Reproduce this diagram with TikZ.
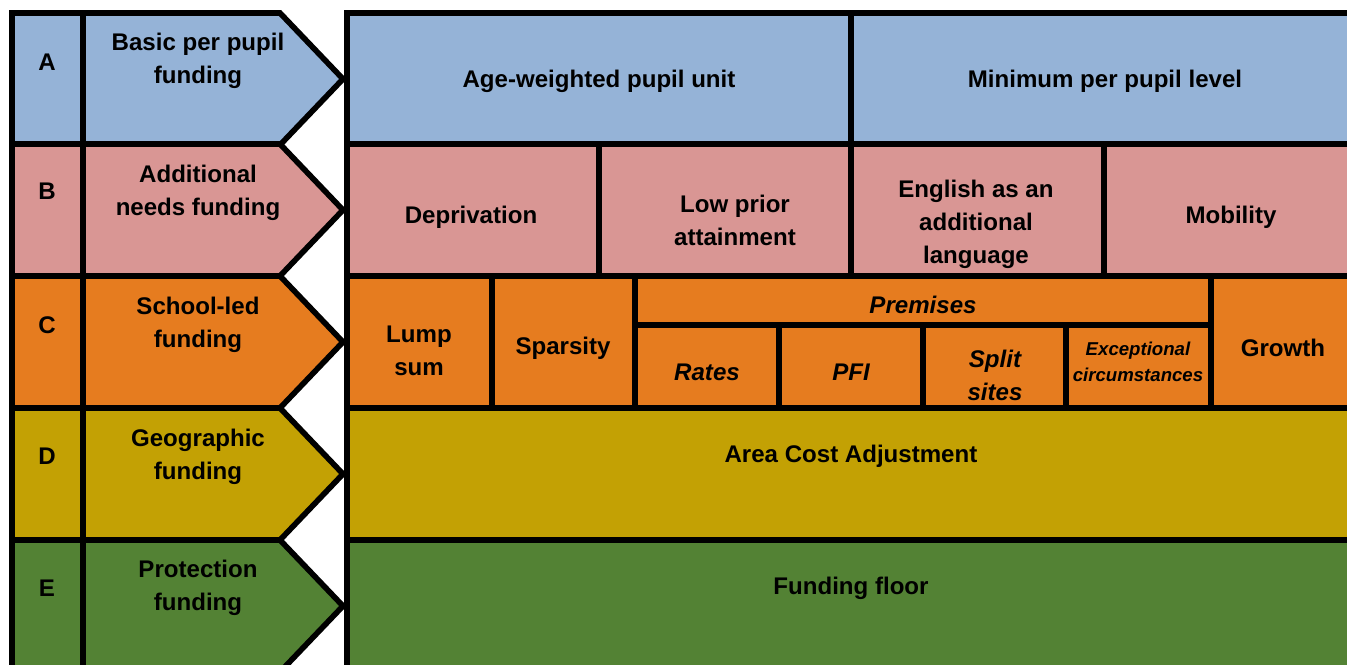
\documentclass[tikz,border=0pt]{standalone}
\usepackage{fontspec}
\setmainfont{Liberation Sans}
\usepackage{tikz}
\definecolor{blueA}{HTML}{95B3D7}
\definecolor{pinkB}{HTML}{D99694}
\definecolor{orangeC}{HTML}{E67C1F}
\definecolor{goldD}{HTML}{C3A104}
\definecolor{greenE}{HTML}{538234}

\begin{document}
\begin{tikzpicture}[x=0.02cm,y=-0.02cm,
    box/.style={draw=black,line width=3.2pt},
    lbl/.style={font=\bfseries\fontsize{13.7}{18.7}\selectfont,align=center,inner sep=0pt},
    ilbl/.style={lbl,font=\bfseries\itshape\fontsize{13.7}{18.7}\selectfont},
    slbl/.style={lbl,font=\bfseries\itshape\fontsize{10.6}{14.7}\selectfont}]
    \useasboundingbox (0,0) rectangle (1347,665);
    \clip (0,0) rectangle (1347,665);
    % Left column (letters and arrows)
    \foreach \y/\col in {13/blueA,144/pinkB,276/orangeC,408/goldD,540/greenE} {
        \draw[box,fill=\col] (12,\y) rectangle (83,\y+132);
        \draw[box,fill=\col] (83,\y) -- (280,\y) -- (343,\y+66) -- (280,\y+132) -- (83,\y+132) -- cycle;
    }
    \node[lbl] (letA) at (47,62) {A};
    \node[lbl] (letB) at (47,191) {B};
    \node[lbl] (letC) at (47,325) {C};
    \node[lbl] (letD) at (47,456) {D};
    \node[lbl] (letE) at (47,588) {E};
    \node[lbl] (fundA) at (198,61) {Basic per pupil\\funding};
    \node[lbl] (fundB) at (198,193) {Additional\\needs funding};
    \node[lbl] (fundC) at (198,325) {School-led\\funding};
    \node[lbl] (fundD) at (198,457) {Geographic\\funding};
    \node[lbl] (fundE) at (198,588) {Protection\\funding};

    % Row A
    \draw[box,fill=blueA] (347,13) rectangle (851,144);
    \draw[box,fill=blueA] (851,13) rectangle (1356,144);
    \node[lbl] (awpu) at (599,81) {Age-weighted pupil unit};
    \node[lbl] (mppl) at (1105,81) {Minimum per pupil level};

    % Row B
    \draw[box,fill=pinkB] (347,144) rectangle (599,276);
    \draw[box,fill=pinkB] (599,144) rectangle (851,276);
    \draw[box,fill=pinkB] (851,144) rectangle (1104,276);
    \draw[box,fill=pinkB] (1104,144) rectangle (1356,276);
    \node[lbl] (depr) at (471,217) {Deprivation};
    \node[lbl] (lpa) at (735,220) {Low prior\\attainment};
    \node[lbl] (eal) at (976,224) {English as an\\additional\\language};
    \node[lbl] (mob) at (1231,217) {Mobility};

    % Row C
    \draw[box,fill=orangeC] (347,276) rectangle (492,408);
    \draw[box,fill=orangeC] (492,276) rectangle (635,408);
    \draw[box,fill=orangeC] (635,276) rectangle (1211,325);
    \draw[box,fill=orangeC] (635,325) rectangle (779,408);
    \draw[box,fill=orangeC] (779,325) rectangle (923,408);
    \draw[box,fill=orangeC] (923,325) rectangle (1066,408);
    \draw[box,fill=orangeC] (1066,325) rectangle (1211,408);
    \draw[box,fill=orangeC] (1211,276) rectangle (1356,408);
    \node[lbl] (lump) at (419,351) {Lump\\sum};
    \node[lbl] (spar) at (563,348) {Sparsity};
    \node[ilbl] (prem) at (923,305) {Premises};
    \node[ilbl] (rates) at (707,372) {Rates};
    \node[ilbl] (pfi) at (851,372) {PFI};
    \node[ilbl] (split) at (995,375) {Split\\sites};
    \node[slbl] (exc) at (1138,362) {Exceptional\\circumstances};
    \node[lbl] (grow) at (1283,348) {Growth};

    % Row D
    \draw[box,fill=goldD] (347,408) rectangle (1356,540);
    \node[lbl] (aca) at (851,456) {Area Cost Adjustment};

    % Row E
    \draw[box,fill=greenE] (347,540) rectangle (1356,672);
    \node[lbl] (floor) at (851,588) {Funding floor};
\end{tikzpicture}
\end{document}
